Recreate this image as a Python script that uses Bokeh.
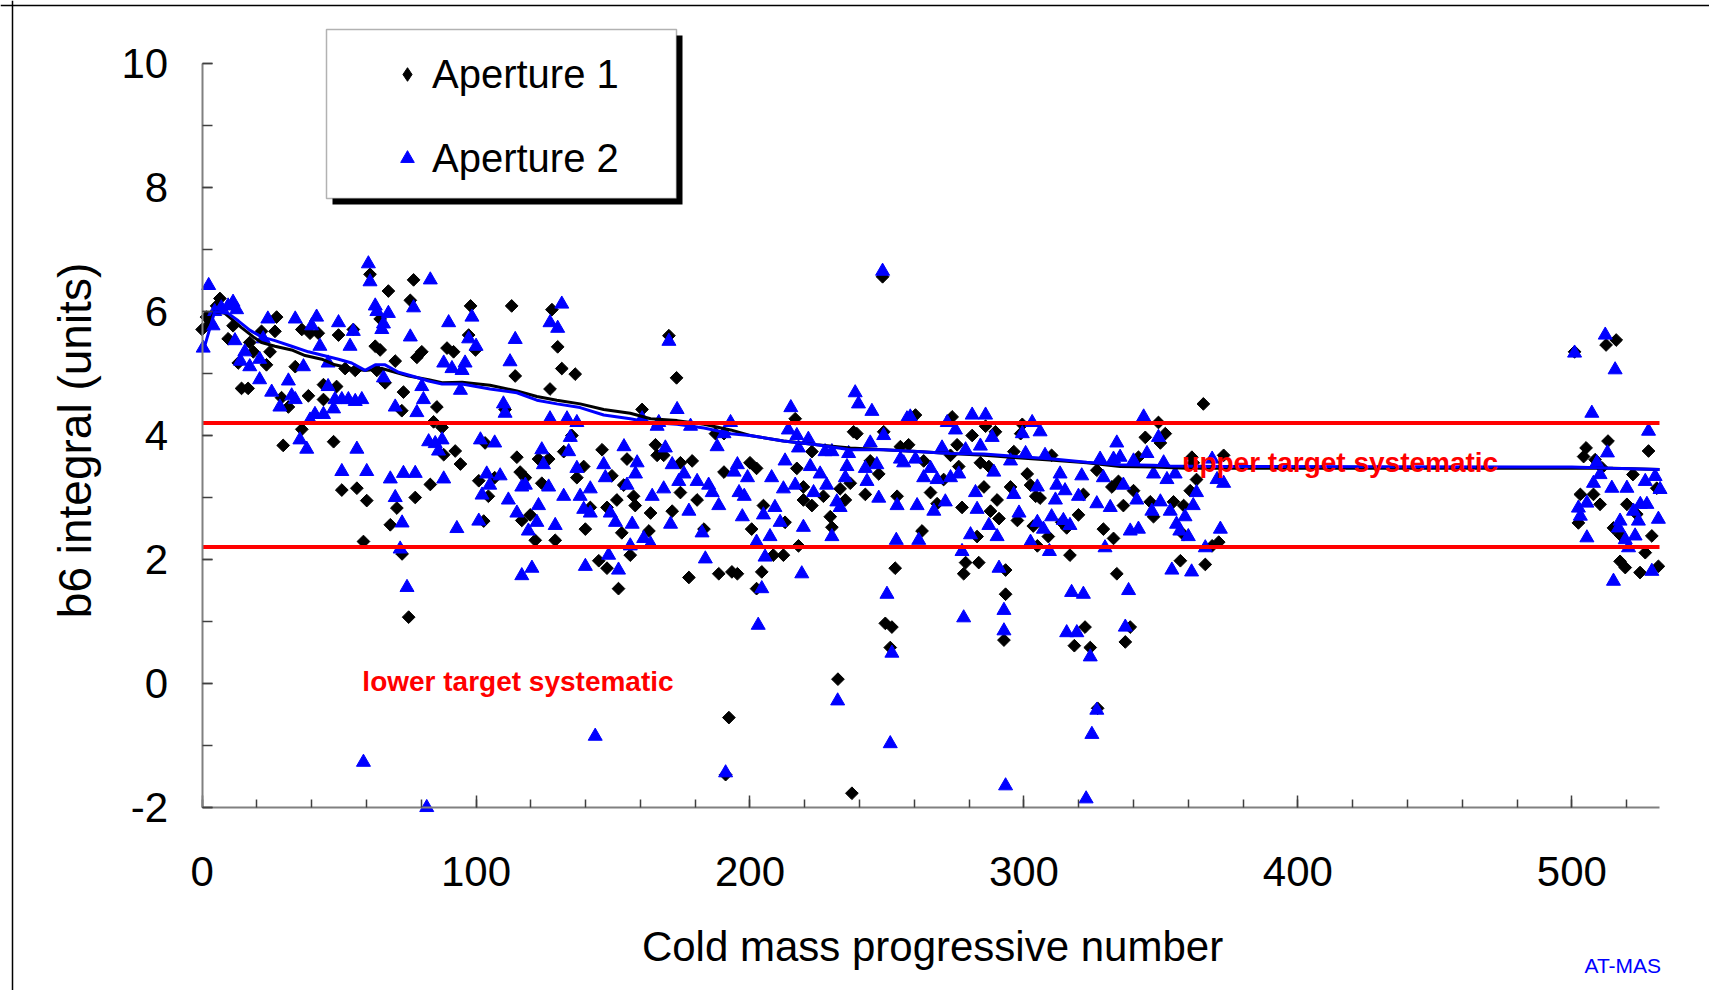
import numpy as np
from bokeh.plotting import figure
from bokeh.models import (Range1d, FixedTicker, Label, Legend, LegendItem,
                          BoxAnnotation, LinearAxis, Span)
from bokeh.embed import file_html
from bokeh.resources import INLINE

FONT = "Liberation Sans"

# ---------------- axis ticks ----------------
x_ticks = [0, 100, 200, 300, 400, 500]
x_minor = list(range(0, 540, 20))
y_ticks = [-2, 0, 2, 4, 6, 8, 10]
y_minor = list(range(-2, 11))
x_axis_span = (0, 532)
y_axis_span = (-2, 10)

# target systematic levels
target_levels = [4.2, 2.2]

# ---------------- Aperture 1 (black diamonds) ----------------
ap1_0_100 = [(0, 5.71), (1.6, 5.91), (2.8, 5.8), (6.5, 6.21), (5.3, 6.09), (9.5, 5.56), (11.3, 5.77),
             (13.2, 5.17), (14.4, 4.76), (16.8, 4.76), (17.4, 5.5), (18.7, 5.35), (21.7, 5.68), (23.5, 5.14),
             (24.8, 5.35), (27.2, 5.91), (26.6, 5.68), (29, 4.61), (31.5, 4.46), (29.6, 3.84), (34, 5.11),
             (36.4, 5.71), (38.8, 4.64), (39.4, 5.65), (42.4, 5.65), (36.4, 4.1), (44.3, 4.82), (44.3, 4.58),
             (49.1, 4.79), (49.8, 5.62), (48, 3.9), (51, 3.12), (52.2, 5.08), (55.9, 5.05), (55.2, 5.71),
             (56.5, 3.15), (60.1, 2.95), (58.9, 2.29), (61.3, 6.6), (63.2, 5.44), (65, 5.38), (63.8, 5.05),
             (65, 5.88), (68, 6.33), (66.8, 4.85), (70.5, 5.2), (68.7, 2.56), (71.1, 2.83), (73, 2.09),
             (75.4, 1.07), (77.2, 6.51), (76, 6.18), (78.4, 5.26), (80.2, 5.35), (77.8, 3.0), (73.5, 4.7),
             (72.9, 4.4), (83.3, 3.21), (85.7, 4.46), (84.5, 4.22), (87.6, 4.13), (88.2, 3.69), (89.4, 5.41),
             (91.8, 5.35), (94.3, 3.54), (92.4, 3.75), (98, 6.09), (97.3, 5.62), (99.8, 5.38), (101, 3.27),
             (102.8, 2.62)]
ap1_100_200 = [(113, 6.09), (127.7, 6.03), (129.8, 5.43), (114.3, 4.96), (131.3, 5.08), (136.2, 4.99),
               (127, 4.75), (110.6, 4.42), (114.9, 3.65), (116.1, 3.41), (118, 3.32), (103.3, 3.88),
               (106.8, 3.32), (104.5, 3.02), (116.7, 2.63), (119.8, 2.72), (121.6, 2.31), (122.8, 3.62),
               (124, 3.23), (126.5, 3.62), (128.9, 2.31), (132, 3.74), (135, 4.0), (136.8, 3.32), (139.3, 3.5),
               (139.9, 2.49), (141.7, 2.84), (144.8, 1.98), (146, 3.77), (147.8, 2.84), (147.8, 1.86),
               (149.6, 3.35), (151.4, 2.96), (152, 1.53), (153.2, 2.43), (155.1, 3.62), (153.9, 3.2),
               (158.1, 2.87), (157.5, 3.02), (156.3, 2.07), (160.6, 4.42), (163.7, 2.75), (163.1, 2.46),
               (165.5, 3.85), (166.1, 3.68), (168.5, 3.68), (170.4, 5.61), (173.2, 4.93), (171.6, 2.78),
               (174.6, 3.56), (174.6, 3.08), (177.7, 1.71), (178.9, 3.59), (180.7, 2.96), (183.2, 2.49),
               (188.6, 1.77), (190.5, 4.03), (190.5, 3.41), (193.4, 1.8), (195.4, 1.77), (192.3, -0.55),
               (191.1, -1.47), (187.4, 4.03)]
ap1_200_300 = [(248.4, 6.56), (216.5, 4.27), (200, 3.56), (202.4, 3.47), (200.6, 2.49), (202.4, 1.53),
               (204.3, 1.8), (204.9, 2.87), (208.5, 2.07), (212.2, 2.07), (212.8, 2.6), (217.7, 2.22),
               (217.1, 3.47), (219.5, 3.17), (219.5, 2.96), (222.6, 2.87), (222.6, 3.74), (226.8, 3.02),
               (229.3, 2.69), (229.9, 2.52), (232.9, 3.14), (234.8, 2.96), (236.6, 3.23), (237.8, 4.06),
               (239, 4.03), (242.1, 3.05), (243.9, 3.59), (247, 3.38), (248.8, 4.06), (249.4, 0.97),
               (251.8, 0.91), (251.2, 0.58), (232.1, 0.07), (237.2, -1.77), (253, 1.86), (253.7, 3.02),
               (254.9, 3.82), (257.9, 3.85), (260.4, 4.33), (263.4, 3.59), (265.9, 3.08), (268.3, 2.9),
               (262.8, 2.46), (270.7, 3.29), (273.2, 3.68), (273.8, 4.3), (275.6, 3.85), (276.2, 3.5),
               (277.4, 2.84), (278.7, 1.95), (278, 1.77), (281.1, 4.0), (282.9, 2.37), (283.5, 1.95),
               (284.1, 3.56), (285.4, 3.17), (286, 4.15), (287.2, 3.5), (287.8, 2.78), (289.6, 4.06),
               (290.2, 2.96), (290.9, 2.66), (293.3, 1.44), (293.3, 1.83), (292.7, 0.7), (296.3, 3.74),
               (295.1, 3.17), (297.6, 2.63), (299.4, 4.18), (298.8, 4.03), (301.2, 3.38), (302.4, 3.2),
               (304.3, 3.02), (304.9, 2.22)]
ap1_300_380 = [(305.9, 2.99), (303.4, 2.54), (308.9, 2.37), (310.1, 3.68), (313.8, 2.6), (315.6, 2.51),
               (319.9, 2.72), (316.8, 2.07), (321.7, 3.05), (322.3, 0.91), (318.4, 0.61), (324.2, 0.58),
               (326.9, -0.4), (326.6, 3.44), (329, 2.49), (332.7, 2.34), (333.9, 1.77), (332.1, 3.17),
               (334.5, 3.26), (336.3, 2.87), (338.8, 0.91), (337, 0.67), (340, 3.11), (341.8, 3.65),
               (344.3, 3.97), (346.1, 2.93), (347.3, 2.69), (349.1, 4.21), (351.6, 4.03), (349.8, 3.88),
               (354.6, 2.93), (358.3, 2.87), (358.3, 2.4), (357.1, 1.98), (360.7, 3.11), (361.8, 3.56),
               (363, 3.29), (365.5, 4.51), (366.2, 1.92), (368.7, 2.22), (371.1, 2.28), (372.9, 3.68),
               (361.3, 3.65)]
ap1_500_532 = [(501, 5.35), (512.5, 5.46), (516.2, 5.54), (505.2, 3.8), (504.3, 3.66), (513.2, 3.91),
               (528, 3.75), (508.5, 3.61), (511, 3.48), (522.3, 3.37), (531, 3.15), (503.1, 3.05),
               (507.9, 3.05), (510.3, 2.89), (520.1, 2.89), (502.4, 2.59), (515.2, 2.51), (523.7, 2.73),
               (529.2, 2.38), (517.6, 2.4), (526.8, 2.11), (517.6, 1.97), (519.5, 1.87), (524.9, 1.79),
               (531.6, 1.89)]

# ---------------- Aperture 2 (blue triangles) ----------------
ap2_0_100 = [(2.4, 6.42), (0.4, 5.41), (4, 5.77), (4.6, 6.0), (7, 6.06), (9.5, 6.09), (11.3, 6.15),
             (12.6, 6.03), (12, 5.53), (15.6, 5.35), (14, 5.2), (17.4, 5.11), (21, 5.23), (22.3, 5.56),
             (24, 5.88), (21, 4.9), (25.4, 4.7), (28.4, 4.46), (31.5, 4.88), (32.7, 4.64), (34, 5.88),
             (37, 5.11), (34, 4.58), (39.4, 4.25), (41.2, 4.34), (44.3, 4.34), (41.8, 5.91), (40, 5.77),
             (43, 5.44), (46, 5.17), (46, 4.79), (48.5, 4.58), (48, 4.43), (49.8, 5.82), (51, 4.58),
             (53.4, 4.58), (54, 5.44), (55.2, 5.68), (55.9, 4.55), (58.3, 4.58), (35.7, 3.93), (38.2, 3.78),
             (51, 3.42), (56.5, 3.78), (60.1, 3.42), (58.9, -1.27), (60.7, 6.77), (61.3, 6.48), (63.2, 6.09),
             (63.8, 6.0), (65.6, 5.71), (66.2, 5.8), (68, 5.97), (66.2, 4.93), (68.7, 3.3), (70.5, 3.0),
             (73, 2.59), (72.3, 2.17), (74.8, 1.55), (73.5, 3.39), (77.8, 3.39), (76, 5.59), (77.2, 6.06),
             (83.3, 6.51), (80.2, 4.79), (80.8, 4.58), (78.4, 4.37), (82.7, 3.9), (85.1, 3.87), (87.6, 3.93),
             (86.3, 3.75), (88.2, 3.3), (70.5, 4.46), (90, 5.82), (88.2, 5.17), (91.2, 5.08), (94.9, 5.05),
             (94.3, 4.73), (93, 2.5), (98.5, 5.91), (97.3, 5.56), (100, 5.44), (96, 5.17), (101.6, 3.93),
             (101, 2.62), (102.2, 3.04), (82, -2.0)]
ap2_100_200 = [(114.3, 5.55), (112.4, 5.19), (110, 4.51), (110.6, 4.36), (131.3, 6.12), (127, 5.82),
               (129.8, 5.73), (106.8, 3.88), (103.9, 3.38), (105, 3.2), (108.8, 3.35), (111.8, 2.96),
               (114.9, 2.75), (116.7, 3.17), (118, 3.2), (119.1, 2.46), (122.2, 2.6), (122.8, 2.87),
               (124, 3.77), (124.6, 3.53), (126.5, 3.17), (127, 4.27), (128.9, 2.55), (132, 3.02),
               (133.2, 4.27), (134.4, 3.97), (133.8, 3.74), (136.8, 4.21), (136.8, 3.47), (116.7, 1.74),
               (120.4, 1.86), (139.9, 1.89), (138, 3.02), (141.7, 3.14), (139.3, 2.81), (141.7, 2.75),
               (146.6, 3.53), (147.2, 3.32), (148.4, 2.07), (152, 1.83), (149, 2.75), (150.9, 2.6),
               (154, 3.82), (155.1, 3.2), (156.3, 2.22), (157, 2.57), (158.8, 3.56), (158.2, 3.38),
               (160.6, 4.27), (161.2, 2.34), (163.7, 2.25), (164.3, 3.02), (166.1, 4.15), (166.7, 4.21),
               (143.5, -0.85), (168.5, 3.14), (169.1, 3.8), (170.4, 5.52), (171, 2.57), (171.6, 3.53),
               (173.4, 4.42), (174, 3.26), (175.9, 3.38), (178.3, 4.15), (177.7, 2.78), (180.7, 3.26),
               (182.5, 2.43), (183.7, 2.01), (184.9, 3.2), (186.2, 3.08), (188.6, 2.87), (188, 3.82),
               (190.5, 4.03), (192.9, 4.21), (194.2, 3.41), (195.4, 3.53), (196, 3.08), (197.9, 3.02),
               (199.1, 3.32), (197.2, 2.69), (191.1, -1.44)]
ap2_200_300 = [(248.4, 6.65), (214.9, 4.45), (214, 4.09), (217.7, 3.8), (217.1, 4.0), (221.3, 3.94),
               (212.8, 3.59), (212.2, 3.14), (207.9, 3.32), (216.5, 3.2), (222, 3.5), (223.2, 3.08),
               (225.6, 3.38), (228, 3.2), (227.4, 3.74), (229.9, 3.74), (204.9, 2.72), (209.1, 2.84),
               (211, 2.6), (207.3, 2.37), (202.4, 2.28), (205.5, 2.04), (204.3, 1.53), (203, 0.94),
               (219.5, 2.52), (218.9, 1.77), (229.9, 2.37), (231.7, 2.93), (232.9, 2.84), (234.8, 3.32),
               (235.4, 3.5), (236, 3.71), (238.4, 4.69), (239.6, 4.51), (242.1, 3.47), (242.7, 3.26),
               (244.5, 4.39), (243.9, 3.88), (246.3, 3.53), (247, 2.99), (248.8, 4.0), (250, 1.44),
               (251.8, 0.49), (232, -0.28), (251.2, -0.97), (253.4, 2.31), (253.7, 2.87), (254.9, 3.62),
               (256.1, 3.56), (257.3, 4.27), (258.5, 4.3), (260.4, 3.62), (261, 2.87), (261.6, 2.31),
               (263.4, 3.32), (265.9, 3.47), (267.1, 2.78), (268.3, 3.29), (270.1, 3.8), (271.3, 2.93),
               (272, 4.21), (273.2, 3.32), (275, 4.09), (276.2, 3.38), (277.4, 2.13), (278, 1.06),
               (278.7, 3.77), (280.5, 2.4), (281.1, 4.33), (282.3, 3.08), (282.9, 2.81), (284.1, 3.83),
               (286, 4.33), (287.2, 2.55), (288.4, 3.97), (289, 3.41), (290.2, 2.37), (290.9, 1.86),
               (292.7, 1.18), (292.7, 0.85), (293.3, -1.65), (295.1, 3.59), (296.3, 3.05), (298.2, 2.75),
               (299.4, 4.03), (300.6, 3.71), (302.4, 2.28), (303, 4.21), (304.9, 3.17), (304.9, 2.6)]
ap2_300_380 = [(305.9, 4.06), (307.7, 3.68), (313.2, 3.38), (312, 3.2), (315, 3.11), (311.5, 2.96),
               (307.1, 2.49), (310.1, 2.69), (314.4, 2.63), (316.8, 2.55), (309.3, 2.13), (321.1, 3.35),
               (319.9, 3.02), (317.4, 1.47), (321.7, 1.44), (315.6, 0.82), (319.3, 0.82), (324.2, 0.43),
               (326.6, -0.43), (324.8, -0.82), (322.7, -1.86), (327.8, 3.62), (329, 3.32), (326.6, 2.9),
               (331.5, 2.84), (329.6, 2.19), (333.9, 3.88), (332.7, 3.62), (335.1, 3.65), (336.3, 3.2),
               (338.2, 1.5), (337, 0.91), (338.8, 2.46), (341.8, 2.49), (341.2, 2.96), (340, 3.59),
               (343.7, 4.3), (344.9, 3.71), (349.1, 3.97), (347.3, 3.38), (346.7, 2.78), (349.8, 2.93),
               (351, 3.56), (352.2, 3.29), (353.4, 2.78), (355.2, 3.38), (355.7, 2.57), (356.9, 2.46),
               (358.8, 2.69), (360, 2.37), (361.8, 2.87), (363, 3.08), (354, 1.83), (361.2, 1.8),
               (366.2, 2.19), (371.7, 2.49), (370.5, 3.29), (372.9, 3.23), (368.7, 3.62)]
ap2_500_532 = [(501, 5.33), (512.2, 5.62), (515.8, 5.06), (507.3, 4.36), (528, 4.07), (513, 3.72),
               (509.1, 3.56), (510.3, 3.37), (507.9, 3.23), (514.6, 3.15), (520.1, 3.15), (526.8, 3.26),
               (530.4, 3.34), (532.2, 3.13), (502.4, 2.83), (505.5, 2.91), (503.1, 2.7), (505.5, 2.35),
               (525, 2.89), (527.4, 2.89), (522.5, 2.78), (524.3, 2.62), (531.6, 2.65), (517.6, 2.62),
               (517, 2.51), (519.5, 2.32), (523.1, 2.38), (520.7, 2.19), (529.2, 1.81), (515.2, 1.65)]

# ---------------- running averages ----------------
avg1_x = [1, 4.6, 8.3, 10.7, 14.4, 18.7, 21.7, 26.6, 32.7, 37.6, 43.7, 48.5, 54.6, 59.5, 65.6, 70.5,
          75.4, 82.7, 87.6, 94.9, 105.1, 114.9, 122.2, 129.5, 138, 146.6, 156.3, 163.7, 173.4, 183.2,
          192.9, 200, 212.2, 224.4, 236.6, 248.8, 261, 273.2, 285.4, 297.6, 310.7, 322.9, 335.1, 347.3,
          359.5, 372, 500, 515, 532]
avg1_y = [5.71, 6.0, 5.97, 5.88, 5.74, 5.59, 5.5, 5.44, 5.38, 5.29, 5.23, 5.14, 5.08, 5.05, 5.08, 5.02,
          4.96, 4.9, 4.85, 4.86, 4.81, 4.72, 4.63, 4.57, 4.51, 4.42, 4.36, 4.27, 4.24, 4.18,
          4.09, 4.0, 3.91, 3.85, 3.8, 3.77, 3.74, 3.71, 3.68, 3.64, 3.6, 3.56, 3.5, 3.49,
          3.47, 3.47, 3.47, 3.47, 3.45]
avg2_x = [1, 4.6, 9.5, 13.2, 17.4, 21.7, 26.6, 32.7, 38.8, 44.3, 49.8, 54.6, 59.5, 63.2, 66.8, 71.7,
          76.6, 82.7, 87.6, 94.9, 105.1, 114.9, 122.2, 129.5, 138, 146.6, 156.3, 163.7, 173.4, 183.2,
          192.9, 200, 212.2, 224.4, 236.6, 248.8, 261, 273.2, 285.4, 297.6, 310.7, 322.9, 335.1, 347.3,
          353.4, 372, 500, 515, 532]
avg2_y = [5.45, 6.0, 5.97, 5.85, 5.7, 5.59, 5.53, 5.44, 5.35, 5.29, 5.23, 5.17, 5.05, 5.14, 5.14, 5.02,
          4.96, 4.88, 4.83, 4.83, 4.75, 4.69, 4.57, 4.51, 4.45, 4.33, 4.27, 4.21, 4.18, 4.12,
          4.03, 4.0, 3.91, 3.85, 3.77, 3.77, 3.74, 3.71, 3.7, 3.66, 3.62, 3.57, 3.53, 3.52,
          3.51, 3.5, 3.49, 3.47, 3.45]

ap1 = ap1_0_100 + ap1_100_200 + ap1_200_300 + ap1_300_380 + ap1_500_532
ap2 = ap2_0_100 + ap2_100_200 + ap2_200_300 + ap2_300_380 + ap2_500_532
ap1_x = [a for a, b in ap1]
ap1_y = [b for a, b in ap1]
ap2_x = [a for a, b in ap2]
ap2_y = [b for a, b in ap2]

# ---------------- figure (frame covers the whole canvas; axes are drawn at fixed positions) ----------------
W, H = 1709, 990
AX_LEFT, AX_RIGHT, AX_TOP, AX_BOTTOM = 201.6, 1659.0, 63.0, 807.0   # pixel box of the axes
sx = (AX_RIGHT - AX_LEFT) / (x_axis_span[1] - x_axis_span[0])
sy = (AX_BOTTOM - AX_TOP) / (y_axis_span[1] - y_axis_span[0])
x_range = Range1d(x_axis_span[0] - AX_LEFT / sx, x_axis_span[1] + (W - AX_RIGHT) / sx)
y_range = Range1d(y_axis_span[0] - (H - AX_BOTTOM) / sy, y_axis_span[1] + AX_TOP / sy)

p = figure(width=W, height=H, x_range=x_range, y_range=y_range,
           output_backend="svg", toolbar_location=None,
           x_axis_location=None, y_axis_location=None,
           min_border=0, min_border_left=0, min_border_right=0, min_border_top=0, min_border_bottom=0)
p.grid.visible = False
p.outline_line_color = None
p.background_fill_color = "white"
p.border_fill_color = "white"

xa = LinearAxis(fixed_location=y_axis_span[0], bounds=x_axis_span,
                ticker=FixedTicker(ticks=x_ticks, minor_ticks=x_minor))
ya = LinearAxis(fixed_location=x_axis_span[0], bounds=y_axis_span,
                ticker=FixedTicker(ticks=y_ticks, minor_ticks=y_minor),
                major_label_overrides={-2: "-2"})
for ax in (xa, ya):
    ax.axis_line_color = "#808080"
    ax.axis_line_width = 2
    ax.major_tick_out = 0
    ax.minor_tick_out = 0
    ax.major_tick_line_color = "#404040"
    ax.minor_tick_line_color = "#404040"
    ax.major_tick_line_width = 1.5
    ax.minor_tick_line_width = 1.5
    ax.major_label_text_font = FONT
    ax.major_label_text_font_size = "42px"
    ax.major_label_text_color = "black"
xa.major_tick_in = 12
xa.minor_tick_in = 8
ya.major_tick_in = 10
ya.minor_tick_in = 10
xa.major_label_standoff = 49
ya.major_label_standoff = 34
p.add_layout(xa, "below")
p.add_layout(ya, "left")

r1 = p.scatter(ap1_x, ap1_y, marker="square", angle=np.pi / 4, size=9,
               fill_color="black", line_color="black")
r2 = p.scatter(ap2_x, ap2_y, marker="triangle", size=14,
               fill_color="#0000FF", line_color="#0000FF")
# renderers that only provide the legend swatches (no visible data)
leg1 = p.scatter([np.nan], [np.nan], marker="diamond", size=14, fill_color="black", line_color="black")
leg2 = p.scatter([np.nan], [np.nan], marker="triangle", size=14, fill_color="#0000FF", line_color="#0000FF")

p.line(avg1_x, avg1_y, line_color="black", line_width=3)
p.line(avg2_x, avg2_y, line_color="#0000FF", line_width=3)

p.segment(x0=[x_axis_span[0]] * len(target_levels), x1=[x_axis_span[1]] * len(target_levels),
          y0=target_levels, y1=target_levels, line_color="#FF0000", line_width=4)

# axis titles
p.add_layout(Label(x=932, y=H - 946, x_units="screen", y_units="screen",
                   text="Cold mass progressive number", text_font=FONT, text_font_size="42px",
                   text_color="black", text_align="center", text_baseline="middle"))
p.add_layout(Label(x=74, y=H - 440, x_units="screen", y_units="screen", angle=np.pi / 2,
                   text="b6 integral (units)", text_font=FONT, text_font_size="46px",
                   text_color="black", text_align="center", text_baseline="middle"))

# texts
p.add_layout(Label(x=58.5, y=0.04, text="lower target systematic", text_color="#FF0000",
                   text_font=FONT, text_font_style="bold", text_font_size="28px",
                   text_baseline="middle", text_align="left"))
p.add_layout(Label(x=357.8, y=3.56, text="upper target systematic", text_color="#FF0000",
                   text_font=FONT, text_font_style="bold", text_font_size="28px",
                   text_baseline="middle", text_align="left"))
p.add_layout(Label(x=1584, y=H - 965, x_units="screen", y_units="screen", text="AT-MAS",
                   text_color="#0000FF", text_font=FONT, text_font_size="21px",
                   text_baseline="middle", text_align="left"))

# outer chart border (only left and top edges are inside the picture)
p.add_layout(Span(location=12, location_units="screen", dimension="height",
                  line_color="black", line_width=1.5))
p.add_layout(Span(location=H - 5, location_units="screen", dimension="width",
                  line_color="black", line_width=1.5))

# legend box, its shadow, and entries
p.add_layout(BoxAnnotation(left=332, right=682, bottom=H - 204, top=H - 35,
                           left_units="screen", right_units="screen",
                           top_units="screen", bottom_units="screen",
                           fill_color="black", fill_alpha=1, line_color=None))
p.add_layout(BoxAnnotation(left=326, right=676, bottom=H - 198, top=H - 29,
                           left_units="screen", right_units="screen",
                           top_units="screen", bottom_units="screen",
                           fill_color="white", fill_alpha=1, line_color="black", line_width=1.5))
legend = Legend(items=[LegendItem(label="Aperture 1", renderers=[leg1]),
                       LegendItem(label="Aperture 2", renderers=[leg2])],
                location=(382, H - 182), orientation="vertical",
                border_line_color=None, background_fill_alpha=0,
                padding=0, margin=0, spacing=36, label_height=48,
                glyph_height=34, glyph_width=50, label_standoff=0,
                label_text_font=FONT, label_text_font_size="40px", label_text_color="black")
p.add_layout(legend)

open("out.html", "w").write(file_html(p, INLINE))
